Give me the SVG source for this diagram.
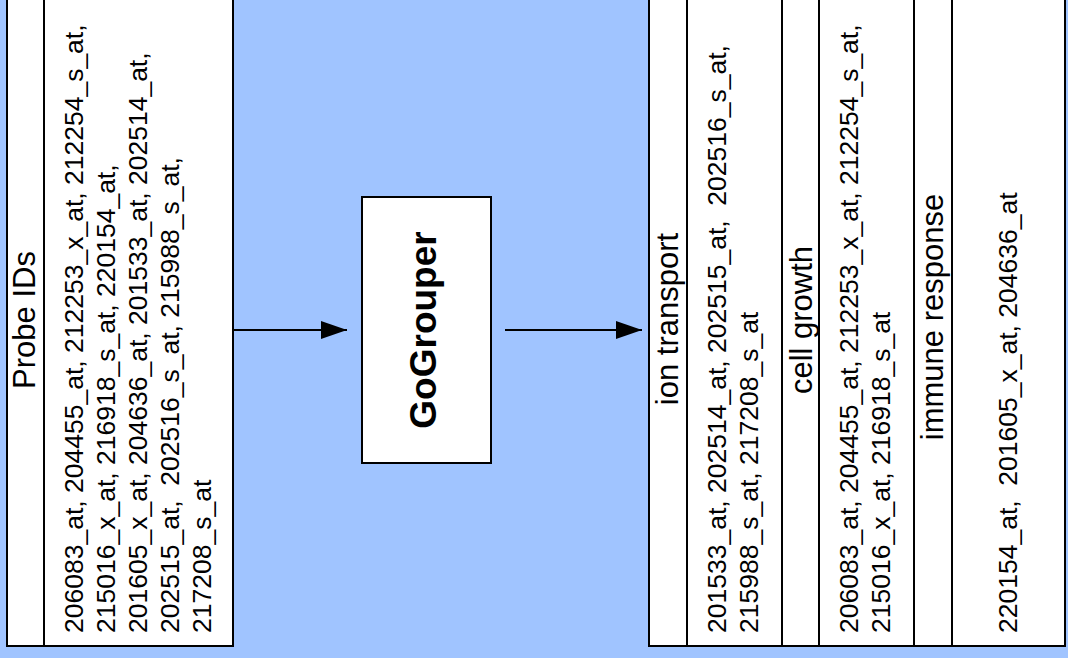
<svg xmlns="http://www.w3.org/2000/svg" width="1068" height="658" viewBox="0 0 1068 658">
<style>
.box{fill:#ffffff;stroke:#000000;stroke-width:2}
.div{stroke:#000000;stroke-width:2}
.t{font-family:"Liberation Sans",Arial,sans-serif;font-size:26.5px;fill:#000000;white-space:pre}
.h{font-family:"Liberation Sans",Arial,sans-serif;font-size:31px;fill:#000000;text-anchor:middle}
.b{font-family:"Liberation Sans",Arial,sans-serif;font-size:37px;font-weight:bold;fill:#000000;text-anchor:middle}
.con{stroke:#000000;stroke-width:2;fill:none}
</style>
<defs>
<marker id="ah" markerWidth="26" markerHeight="18" refX="26" refY="9" orient="auto" markerUnits="userSpaceOnUse">
<path d="M0,0 L26,9 L0,18 Z" fill="#000000"/>
</marker>
</defs>
<rect x="0" y="0" width="1068" height="658" fill="#a0c4ff"/>
<g id="probe-ids">
<rect class="box" x="7" y="-10" width="226" height="656"/>
<line class="div" x1="44" y1="-10" x2="44" y2="646"/>
<text class="h" transform="translate(35,320) rotate(-90)">Probe IDs</text>
<text class="t" transform="translate(83,633) rotate(-90)">206083_at, 204455_at, 212253_x_at, 212254_s_at,</text>
<text class="t" transform="translate(115,633) rotate(-90)">215016_x_at, 216918_s_at, 220154_at,</text>
<text class="t" transform="translate(147,633) rotate(-90)">201605_x_at, 204636_at, 201533_at, 202514_at,</text>
<text class="t" transform="translate(179,633) rotate(-90)">202515_at,  202516_s_at, 215988_s_at,</text>
<text class="t" transform="translate(211,633) rotate(-90)">217208_s_at</text>
</g>
<g id="gogrouper">
<rect class="box" x="362" y="197" width="129" height="266"/>
<text class="b" transform="translate(436,330) rotate(-90)">GoGrouper</text>
</g>
<g id="go-groups">
<rect class="box" x="649" y="-10" width="416" height="656"/>
<line class="div" x1="687" y1="-10" x2="687" y2="646"/>
<line class="div" x1="782" y1="-10" x2="782" y2="646"/>
<line class="div" x1="819" y1="-10" x2="819" y2="646"/>
<line class="div" x1="914" y1="-10" x2="914" y2="646"/>
<line class="div" x1="952" y1="-10" x2="952" y2="646"/>
<text class="h" transform="translate(678,319) rotate(-90)">ion transport</text>
<text class="t" transform="translate(726,633) rotate(-90)">201533_at, 202514_at, 202515_at,  202516_s_at,</text>
<text class="t" transform="translate(758,633) rotate(-90)">215988_s_at, 217208_s_at</text>
<text class="h" transform="translate(812,320) rotate(-90)">cell growth</text>
<text class="t" transform="translate(858,633) rotate(-90)">206083_at, 204455_at, 212253_x_at, 212254_s_at,</text>
<text class="t" transform="translate(890,633) rotate(-90)">215016_x_at, 216918_s_at</text>
<text class="h" transform="translate(943,317) rotate(-90)">immune response</text>
<text class="t" transform="translate(1017,633) rotate(-90)">220154_at,  201605_x_at, 204636_at</text>
</g>
<g id="connectors">
<line class="con" x1="233" y1="330" x2="347" y2="330" marker-end="url(#ah)"/>
<line class="con" x1="505" y1="330" x2="642" y2="330" marker-end="url(#ah)"/>
</g>
</svg>
